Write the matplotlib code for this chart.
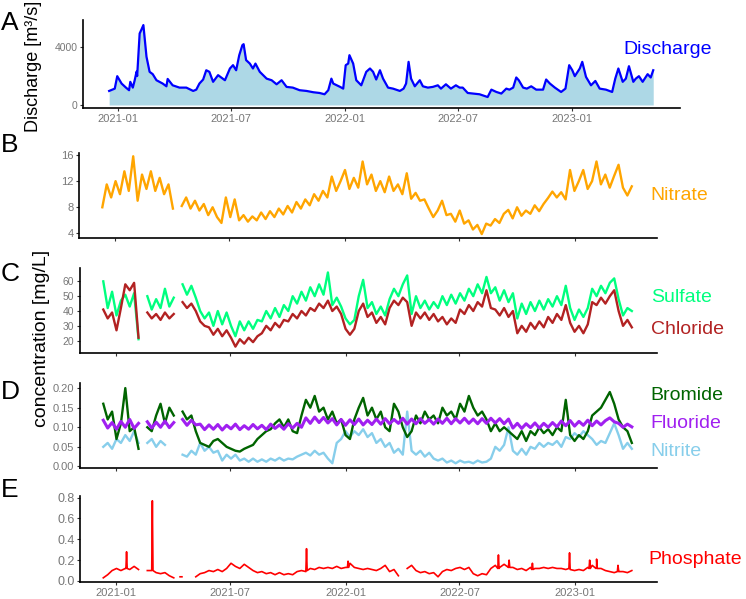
import numpy as np
import pandas as pd
import matplotlib
matplotlib.use("Agg")
import matplotlib.pyplot as plt
import matplotlib.dates as mdates

plt.rcParams['font.family'] = ['Liberation Sans', 'DejaVu Sans']

nan = np.nan

# ---- panel A: discharge ----
discharge_dates = [
    '2020-12-18', '2020-12-27', '2020-12-31', '2021-01-07', '2021-01-14', '2021-01-19',
    '2021-01-21', '2021-01-25', '2021-01-28', '2021-01-31', '2021-02-01', '2021-02-05',
    '2021-02-08', '2021-02-11', '2021-02-16', '2021-02-21', '2021-02-26', '2021-03-04',
    '2021-03-14', '2021-03-20', '2021-03-22', '2021-03-30', '2021-04-10', '2021-04-21',
    '2021-05-02', '2021-05-07', '2021-05-12', '2021-05-18', '2021-05-23', '2021-05-28',
    '2021-06-03', '2021-06-11', '2021-06-16', '2021-06-22', '2021-06-30', '2021-07-05',
    '2021-07-10', '2021-07-15', '2021-07-20', '2021-07-22', '2021-07-26', '2021-08-01',
    '2021-08-06', '2021-08-10', '2021-08-17', '2021-08-28', '2021-09-05', '2021-09-13',
    '2021-09-21', '2021-09-29', '2021-10-09', '2021-10-20', '2021-10-31', '2021-11-11',
    '2021-11-21', '2021-11-29', '2021-12-05', '2021-12-10', '2021-12-13', '2021-12-24',
    '2021-12-29', '2022-01-02', '2022-01-06', '2022-01-08', '2022-01-14', '2022-01-19',
    '2022-01-27', '2022-02-04', '2022-02-10', '2022-02-15', '2022-02-20', '2022-02-26',
    '2022-03-03', '2022-03-11', '2022-03-19', '2022-03-30', '2022-04-05', '2022-04-09',
    '2022-04-13', '2022-04-17', '2022-04-23', '2022-05-01', '2022-05-06', '2022-05-14',
    '2022-05-22', '2022-05-30', '2022-06-04', '2022-06-12', '2022-06-20', '2022-06-28',
    '2022-07-04', '2022-07-09', '2022-07-17', '2022-07-25', '2022-08-05', '2022-08-18',
    '2022-08-24', '2022-09-01', '2022-09-09', '2022-09-17', '2022-09-22', '2022-09-28',
    '2022-10-03', '2022-10-07', '2022-10-14', '2022-10-20', '2022-10-27', '2022-11-04',
    '2022-11-15', '2022-11-20', '2022-11-26', '2022-12-04', '2022-12-14', '2022-12-21',
    '2022-12-27', '2023-01-01', '2023-01-05', '2023-01-13', '2023-01-17', '2023-01-23',
    '2023-01-31', '2023-02-07', '2023-02-14', '2023-02-24', '2023-03-06', '2023-03-11',
    '2023-03-16', '2023-03-23', '2023-03-28', '2023-04-02', '2023-04-09', '2023-04-13',
    '2023-04-18', '2023-04-24', '2023-05-02', '2023-05-07', '2023-05-11',
]
discharge = [
    970, 1130, 1990, 1480, 1200, 1020,
    1600, 1200, 1700, 2300, 2000, 4940,
    5220, 5520, 3330, 2290, 2130, 1710,
    1480, 1290, 1800, 1360, 1200, 1200,
    970, 1060, 1480, 1760, 2400, 2290,
    1600, 2060, 1900, 1710, 2520, 2750,
    2400, 3440, 4130, 4200, 3100, 2860,
    2520, 2860, 2290, 1820, 1710, 1430,
    1710, 1250, 1200, 1020, 970, 880,
    830, 740, 1020, 1820, 1480, 1250,
    1130, 2750, 2860, 3440, 2860, 1710,
    1360, 2290, 2520, 2290, 1760, 2400,
    1820, 1200, 1130, 970, 1130, 1480,
    2980, 1820, 1290, 1710, 1290, 1200,
    1250, 1360, 1130, 1430, 1130, 1360,
    1200, 1200, 830, 790, 740, 550,
    1060, 900, 790, 1130, 1060, 1200,
    1900, 1710, 1200, 1130, 1290, 1060,
    1060, 1760, 1480, 1200, 900, 1130,
    2750, 2400, 1990, 2520, 2980, 1940,
    1360, 1660, 1130, 1060, 900, 1820,
    2520, 1600, 1820, 2680, 1600, 1820,
    1990, 1600, 2130, 1900, 2400,
]

# ---- panels B-E: weekly readings from 2020-12-12 ----
week_start = '2020-12-12'
n_weeks = 121

nitrate = [
    8.0, 11.5, 9.5, 12.0, 10.0, 13.5, 10.5, 15.8, 9.0, 13.0,
    10.8, 13.5, 10.5, 12.5, 10.0, 11.5, 7.8, nan, 8.2, 9.5,
    7.8, 9.0, 7.5, 8.5, 6.8, 8.0, 6.5, 5.6, 9.5, 6.5,
    9.2, 6.0, 6.8, 5.8, 6.6, 6.0, 7.2, 6.2, 7.4, 6.5,
    7.8, 6.9, 8.2, 7.2, 8.8, 7.8, 9.2, 8.3, 10.0, 9.0,
    10.5, 9.5, 12.7, 10.5, 12.0, 13.7, 10.8, 12.5, 11.0, 15.0,
    11.5, 13.0, 10.5, 12.0, 10.3, 12.7, 10.5, 11.5, 10.0, 13.2,
    9.3, 10.2, 9.0, 9.2, 7.8, 6.5, 7.5, 9.0, 6.8, 7.0,
    5.8, 7.5, 5.5, 6.0, 4.6, 5.3, 3.9, 5.5, 5.2, 6.2,
    5.6, 7.0, 7.6, 6.3, 8.0, 6.7, 7.5, 7.0, 8.3, 7.4,
    8.5, 9.4, 10.4, 9.5, 10.3, 9.2, 13.7, 10.5, 12.0, 13.7,
    10.8, 12.0, 15.0, 11.5, 13.0, 11.0, 12.8, 14.5, 11.0, 9.8,
    11.2,
]

sulfate = [
    60, 42, 53, 37, 47, 51, 43, 52, 21, nan,
    50, 41, 48, 42, 55, 43, 49, nan, 58, 51,
    57, 49, 40, 35, 39, 30, 40, 31, 39, 30,
    23, 33, 27, 33, 28, 34, 33, 40, 35, 42,
    36, 44, 40, 50, 45, 53, 47, 56, 50, 58,
    51, 66, 44, 49, 43, 35, 31, 34, 50, 61,
    42, 46, 38, 43, 37, 48, 55, 50, 58, 64,
    38, 50, 42, 47, 41, 46, 42, 50, 44, 51,
    45, 52, 47, 55, 50, 58, 52, 63, 52, 56,
    47, 54, 46, 52, 35, 45, 38, 46, 40, 47,
    41, 48, 43, 50, 44, 57, 42, 34, 41, 36,
    42, 55, 50, 57, 52, 59, 62, 48, 37, 42,
    40,
]

chloride = [
    41, 35, 39, 27, 42, 58, 54, 59, 22, nan,
    39, 35, 38, 34, 39, 35, 38, nan, 46, 42,
    45, 40, 33, 30, 29, 24, 28, 23, 27, 22,
    16, 21, 18, 22, 19, 23, 25, 30, 27, 32,
    29, 34, 33, 38, 35, 40, 37, 42, 40, 45,
    42, 47, 40, 43, 38, 28, 24, 28, 40, 45,
    36, 39, 32, 36, 31, 42, 47, 44, 49, 46,
    30, 39, 35, 39, 34, 38, 33, 36, 31, 35,
    32, 41, 38, 44, 40, 46, 43, 54, 42, 41,
    37, 42, 36, 40, 25, 30, 26, 32, 28, 33,
    29, 36, 32, 38, 34, 44, 32, 26, 30, 25,
    31, 46, 44, 49, 45, 50, 54, 40, 30, 34,
    29,
]

bromide = [
    0.16, 0.12, 0.14, 0.07, 0.11, 0.20, 0.09, 0.10, 0.045, nan,
    0.10, 0.09, 0.13, 0.16, 0.11, 0.15, 0.13, nan, 0.14, 0.12,
    0.13, 0.09, 0.06, 0.055, 0.05, 0.065, 0.07, 0.06, 0.05, 0.045,
    0.04, 0.038, 0.045, 0.05, 0.055, 0.07, 0.08, 0.09, 0.095, 0.11,
    0.12, 0.10, 0.12, 0.09, 0.085, 0.13, 0.17, 0.15, 0.18, 0.14,
    0.15, 0.12, 0.14, 0.11, 0.12, 0.08, 0.07, 0.12, 0.15, 0.175,
    0.13, 0.15, 0.12, 0.14, 0.10, 0.09, 0.16, 0.14, 0.10, 0.075,
    0.09, 0.13, 0.11, 0.14, 0.12, 0.13, 0.11, 0.15, 0.13, 0.14,
    0.12, 0.16, 0.14, 0.18, 0.15, 0.13, 0.14, 0.12, 0.09, 0.11,
    0.09, 0.10, 0.09, 0.08, 0.07, 0.09, 0.065, 0.09, 0.08, 0.10,
    0.085, 0.095, 0.08, 0.10, 0.09, 0.17, 0.08, 0.065, 0.08, 0.07,
    0.09, 0.13, 0.14, 0.15, 0.17, 0.19, 0.16, 0.12, 0.10, 0.09,
    0.06,
]

fluoride = [
    0.118, 0.098, 0.112, 0.095, 0.115, 0.100, 0.120, 0.097, 0.110, nan,
    0.114, 0.098, 0.113, 0.100, 0.116, 0.099, 0.112, nan, 0.120, 0.105,
    0.118, 0.106, 0.108, 0.094, 0.106, 0.095, 0.107, 0.093, 0.105, 0.096,
    0.108, 0.094, 0.104, 0.095, 0.107, 0.096, 0.105, 0.094, 0.108, 0.097,
    0.106, 0.095, 0.109, 0.098, 0.110, 0.100, 0.124, 0.110, 0.126, 0.112,
    0.125, 0.111, 0.122, 0.106, 0.120, 0.105, 0.119, 0.107, 0.121, 0.106,
    0.118, 0.107, 0.121, 0.108, 0.122, 0.109, 0.120, 0.110, 0.123, 0.108,
    0.121, 0.109, 0.122, 0.110, 0.120, 0.108, 0.121, 0.110, 0.123, 0.109,
    0.122, 0.111, 0.123, 0.110, 0.121, 0.109, 0.122, 0.110, 0.123, 0.111,
    0.122, 0.109, 0.121, 0.098, 0.110, 0.097, 0.109, 0.099, 0.111, 0.098,
    0.110, 0.100, 0.112, 0.101, 0.116, 0.104, 0.117, 0.103, 0.115, 0.105,
    0.118, 0.104, 0.116, 0.106, 0.117, 0.124, 0.114, 0.110, 0.100, 0.108,
    0.101,
]

nitrite = [
    0.05, 0.06, 0.045, 0.07, 0.06, 0.08, 0.065, 0.09, 0.06, nan,
    0.06, 0.07, 0.05, 0.065, 0.055, nan, nan, nan, 0.03, 0.025,
    0.04, 0.03, 0.06, 0.04, 0.05, 0.035, 0.04, 0.015, 0.03, 0.02,
    0.03, 0.015, 0.02, 0.012, 0.02, 0.012, 0.018, 0.012, 0.02, 0.015,
    0.022, 0.015, 0.02, 0.018, 0.025, 0.03, 0.035, 0.028, 0.04, 0.03,
    0.035, 0.02, 0.008, 0.06, 0.07, 0.09, 0.075, 0.09, 0.08, 0.095,
    0.075, 0.085, 0.06, 0.07, 0.05, 0.06, 0.035, 0.045, 0.03, 0.14,
    0.04, 0.03, 0.04, 0.025, 0.035, 0.02, 0.015, 0.02, 0.01, 0.015,
    0.008, 0.015, 0.01, 0.012, 0.008, 0.015, 0.01, 0.012, 0.02, 0.05,
    0.04, 0.055, 0.10, 0.04, 0.03, 0.045, 0.03, 0.05, 0.045, 0.06,
    0.05, 0.06, 0.055, 0.065, 0.05, 0.075, 0.07, 0.085, 0.075, 0.09,
    0.08, 0.07, 0.055, 0.065, 0.06, 0.085, 0.11, 0.08, 0.045, 0.06,
    0.045,
]

phosphate = [
    0.03, 0.06, 0.10, 0.12, 0.10, 0.12, 0.11, 0.14, 0.11, nan,
    0.10, 0.10, 0.08, 0.07, 0.08, 0.05, 0.03, nan, nan, nan,
    nan, 0.04, 0.07, 0.08, 0.10, 0.09, 0.11, 0.09, 0.12, 0.17,
    0.14, 0.12, 0.16, 0.13, 0.10, 0.08, 0.09, 0.07, 0.08, 0.06,
    0.08, 0.06, 0.07, 0.06, 0.09, 0.10, 0.09, 0.12, 0.11, 0.13,
    0.12, 0.13, 0.12, 0.14, 0.12, 0.13, 0.17, 0.13, 0.12, 0.11,
    0.12, 0.11, 0.10, 0.12, 0.15, 0.09, 0.11, 0.05, nan, 0.12,
    0.15, 0.10, 0.08, 0.09, 0.07, 0.08, 0.04, 0.09, 0.11, 0.10,
    0.12, 0.13, 0.11, 0.13, 0.07, 0.05, 0.07, 0.06, 0.12, 0.15,
    0.13, 0.16, 0.14, 0.13, 0.11, 0.12, 0.10, 0.13, 0.12, 0.12,
    0.13, 0.12, 0.13, 0.12, 0.12, 0.11, 0.13, 0.10, 0.11, 0.10,
    0.13, 0.15, 0.13, 0.12, 0.10, 0.09, 0.08, 0.10, 0.09, 0.08,
    0.10,
]

# single-day phosphate peaks and the isolated April reading
phosphate_extra_dates = [
    '2021-01-17', '2021-01-18', '2021-01-19',
    '2021-02-27', '2021-02-28', '2021-03-01',
    '2021-04-13', '2021-04-16',
    '2021-10-30', '2021-10-31', '2021-11-01',
    '2022-01-04', '2022-01-05', '2022-01-06',
    '2022-08-31', '2022-09-01', '2022-09-02',
    '2022-09-17', '2022-09-18', '2022-09-19',
    '2022-10-24', '2022-10-25', '2022-10-26',
    '2022-12-22', '2022-12-23', '2022-12-24',
    '2023-01-23', '2023-01-24', '2023-01-25',
    '2023-02-03', '2023-02-04', '2023-02-05',
    '2023-03-09', '2023-03-10', '2023-03-11',
]
phosphate_extra = [
    0.12, 0.28, 0.12,
    0.10, 0.77, 0.10,
    0.04, 0.04,
    0.10, 0.31, 0.10,
    0.13, 0.19, 0.13,
    0.12, 0.25, 0.12,
    0.13, 0.20, 0.13,
    0.11, 0.17, 0.11,
    0.12, 0.27, 0.11,
    0.12, 0.20, 0.12,
    0.12, 0.21, 0.12,
    0.09, 0.15, 0.09,
]

tick_dates = ['2021-01-01', '2021-07-01', '2022-01-01', '2022-07-01', '2023-01-01']

W, H = 746, 599
fig = plt.figure(figsize=(W / 100, H / 100), dpi=100)


def add_panel(left, right, top, bottom):
    return fig.add_axes([left / W, 1 - bottom / H, (right - left) / W, (bottom - top) / H])


def style(ax, yticks, yfmt, ysize, xlabels):
    for s in ['top', 'right']:
        ax.spines[s].set_visible(False)
    for s in ['left', 'bottom']:
        ax.spines[s].set_linewidth(1.2)
        ax.spines[s].set_color('black')
    ax.set_yticks(yticks)
    ax.set_yticklabels([yfmt % v for v in yticks])
    ax.set_xticks(pd.to_datetime(tick_dates))
    if xlabels:
        ax.xaxis.set_major_formatter(mdates.DateFormatter('%Y-%m'))
    else:
        ax.set_xticklabels([])
    ax.tick_params(axis='y', labelsize=ysize, colors='#333333', labelcolor='#777777',
                   length=2.5, width=0.8, pad=1.5)
    ax.tick_params(axis='x', labelsize=8, colors='#333333', labelcolor='#777777',
                   length=2.5, width=0.8, pad=1.5)


weeks = pd.date_range(week_start, periods=n_weeks, freq='7D')
xlim_a = (pd.Timestamp('2020-11-06'), pd.Timestamp('2023-06-23'))
xlim_b = (pd.Timestamp('2020-11-05'), pd.Timestamp('2023-05-11'))

# A
ax = add_panel(83, 680, 20, 108)
qd = pd.to_datetime(discharge_dates)
ax.fill_between(qd, 0, discharge, color='lightblue', lw=0)
ax.plot(qd, discharge, color='blue', lw=1.6)
ax.set_xlim(*xlim_a)
ax.set_ylim(-208, 5870)
style(ax, [0, 4000], '%d', 7.5, True)

# B
ax = add_panel(79, 657, 153, 238)
ax.plot(weeks, nitrate, color='orange', lw=1.7)
ax.set_xlim(*xlim_b)
ax.set_ylim(3.3, 16.3)
style(ax, [4, 8, 12, 16], '%d', 8, False)

# C
ax = add_panel(80, 657, 268, 353)
ax.plot(weeks, sulfate, color='springgreen', lw=1.7)
ax.plot(weeks, chloride, color='firebrick', lw=1.7)
ax.set_xlim(*xlim_b)
ax.set_ylim(11.7, 69)
style(ax, [20, 30, 40, 50, 60], '%d', 7.5, False)

# D
ax = add_panel(80, 657, 383, 468)
ax.plot(weeks, nitrite, color='skyblue', lw=1.7)
ax.plot(weeks, bromide, color='darkgreen', lw=1.7)
ax.plot(weeks, fluoride, color='#A020F0', lw=2.2)
ax.set_xlim(*xlim_b)
ax.set_ylim(-0.004, 0.213)
style(ax, [0, 0.05, 0.10, 0.15, 0.20], '%.2f', 8, False)

# E
ax = add_panel(80, 657, 496, 582)
po = pd.Series(phosphate, index=weeks)
po = pd.concat([po, pd.Series(phosphate_extra, index=pd.to_datetime(phosphate_extra_dates))]).sort_index()
ax.plot(po.index, po.values, color='red', lw=1.2)
ax.set_xlim(*xlim_b)
ax.set_ylim(-0.01, 0.816)
style(ax, [0, 0.2, 0.4, 0.6, 0.8], '%.1f', 9, True)

# series names on the right
names = [('Discharge', 'blue', 623, 50), ('Nitrate', 'orange', 650, 195),
         ('Sulfate', 'springgreen', 651, 298), ('Chloride', 'firebrick', 651, 329),
         ('Bromide', 'darkgreen', 650, 395), ('Fluoride', '#A020F0', 650, 424),
         ('Nitrite', 'skyblue', 650, 451), ('Phosphate', 'red', 648, 559)]
for txt, col, x, y in names:
    fig.text(x / W, 1 - y / H, txt, color=col, fontsize=14, ha='left', va='center')

# panel letters
for letter, y in [('A', 23), ('B', 145), ('C', 274), ('D', 392), ('E', 490)]:
    fig.text(1 / W, 1 - y / H, letter, fontsize=19, ha='left', va='center')

fig.text(33 / W, 1 - 66 / H, 'Discharge [m³/s]', rotation=90, fontsize=13,
         ha='center', va='center')
fig.text(42 / W, 1 - 338 / H, 'concentration [mg/L]', rotation=90, fontsize=14,
         ha='center', va='center')

fig.savefig('out.png', dpi=100)
